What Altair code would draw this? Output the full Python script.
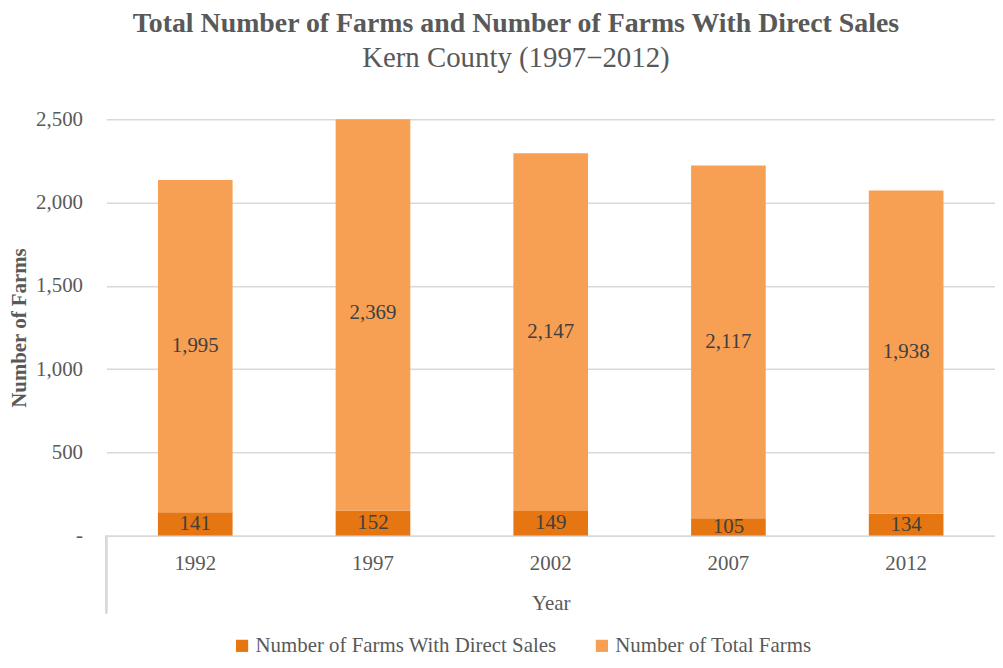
import altair as alt
import pandas as pd

years = ["1992", "1997", "2002", "2007", "2012"]
direct_sales = [141, 152, 149, 105, 134]
total_farms = [1995, 2369, 2147, 2117, 1938]
series_names = ["Number of Farms With Direct Sales", "Number of Total Farms"]
series_colors = ["#E67612", "#F79F53"]
y_ticks = [0, 500, 1000, 1500, 2000, 2500]

rows = []
for i, y in enumerate(years):
    rows.append({"year": y, "series": series_names[0], "value": direct_sales[i], "ord": 0})
    rows.append({"year": y, "series": series_names[1], "value": total_farms[i], "ord": 1})
df = pd.DataFrame(rows)

FONT = "Liberation Serif"
TXT = "#595959"
GRID = "#D9D9D9"
W, H = 894, 419

base = alt.Chart(df).transform_stack(
    stack="value", groupby=["year"], as_=["v0", "v1"],
    sort=[alt.SortField("ord", order="ascending")]
).transform_calculate(mid="(datum.v0 + datum.v1) / 2")

xenc = alt.X("year:N", sort=years,
             scale=alt.Scale(paddingInner=0.58, paddingOuter=0.29),
             axis=alt.Axis(title="Year", labelAngle=0, ticks=False, domain=True,
                           domainColor=GRID, domainWidth=1.5,
                           labelFont=FONT, labelFontSize=21, labelColor=TXT, labelPadding=17,
                           titleFont=FONT, titleFontSize=21, titleColor=TXT,
                           titleFontWeight="normal", titlePadding=19))

yscale = alt.Scale(domain=[0, 2500], nice=False)

bars = base.mark_bar(clip=True).encode(
    x=xenc,
    y=alt.Y("v0:Q", scale=yscale,
            axis=alt.Axis(title="Number of Farms", values=y_ticks,
                          labelExpr="datum.value == 0 ? '-' : format(datum.value, ',d')",
                          ticks=False, domain=False, grid=True, gridColor=GRID, gridWidth=1.5,
                          labelFont=FONT, labelFontSize=21, labelColor=TXT, labelPadding=24,
                          titleFont=FONT, titleFontSize=21, titleColor=TXT,
                          titleFontWeight="bold", titlePadding=6)),
    y2="v1:Q",
    color=alt.Color("series:N", scale=alt.Scale(domain=series_names, range=series_colors),
                    legend=alt.Legend(title=None, orient="none", direction="horizontal",
                                      legendX=126, legendY=519,
                                      symbolType="square", symbolSize=150, symbolStrokeWidth=0,
                                      labelFont=FONT, labelFontSize=21, labelColor=TXT,
                                      labelLimit=500, labelOffset=3, columnPadding=34)),
)

labels = base.mark_text(font=FONT, fontSize=21, color="#404040", baseline="middle").encode(
    x=alt.X("year:N", sort=years),
    y=alt.Y("mid:Q", scale=yscale),
    text=alt.Text("value:Q", format=",d"),
)

left_rule = alt.Chart(df).mark_rule(color=GRID, strokeWidth=1.5, clip=False).encode(
    x=alt.value(0), y=alt.value(H), y2=alt.value(H + 78)
)

chart = alt.layer(bars, labels, left_rule).properties(
    width=W, height=H,
    title=alt.TitleParams(
        text="Total Number of Farms and Number of Farms With Direct Sales",
        subtitle="Kern County (1997\u22122012)",
        font=FONT, fontSize=28, fontWeight="bold", color=TXT,
        subtitleFont=FONT, subtitleFontSize=29, subtitleColor=TXT, subtitlePadding=6,
        anchor="middle", frame="group", dx=-35, offset=36,
    ),
    autosize=alt.AutoSizeParams(type="none"),
    padding={"left": 99, "top": 110, "right": 0, "bottom": 120},
).configure(background="white").configure_view(strokeWidth=0)

chart.save("out.html", embed_options={"renderer": "svg", "actions": False})
